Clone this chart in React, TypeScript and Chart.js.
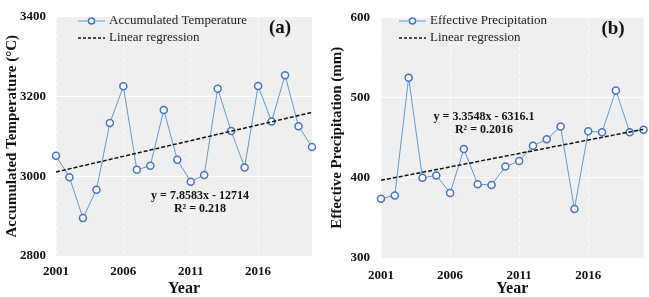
import { useEffect, useRef } from "react";
import { Chart, registerables } from "chart.js";

Chart.register(...registerables);

// Years of record and the two observed series
const YEARS = [
  2001, 2002, 2003, 2004, 2005, 2006, 2007, 2008, 2009, 2010,
  2011, 2012, 2013, 2014, 2015, 2016, 2017, 2018, 2019, 2020,
];
const ACCUM_TEMP = [
  3051, 2997, 2895, 2966, 3133, 3225, 3016, 3026, 3166, 3041,
  2986, 3003, 3219, 3113, 3022, 3226, 3137, 3253, 3125, 3073,
];
const EFFECTIVE_PRECIP = [
  374, 378, 525, 400, 403, 381, 436, 392, 391, 414,
  421, 440, 448, 464, 361, 458, 457, 509, 457, 460,
];

// Axis ticks
const YEAR_TICKS = [2001, 2006, 2011, 2016];
const TEMP_TICKS = [2800, 3000, 3200, 3400];
const PRECIP_TICKS = [300, 400, 500, 600];

// Fitted trends as printed on each panel
const TEMP_SLOPE = 7.8583;
const TEMP_INTERCEPT = -12714;
const TEMP_R2 = "0.218";
const PRECIP_SLOPE = 3.3548;
const PRECIP_INTERCEPT = -6316.1;
const PRECIP_R2 = "0.2016";

const SERIF = "'Liberation Serif', 'Times New Roman', serif";
const LINE_BLUE = "#5B9BD5";
const MARKER_BLUE = "#4472C4";
const PLOT_BG = "#EFEFEF";
const INK = "#111111";

type Panel = {
  width: number;
  tag: string;
  yTitle: string;
  seriesLabel: string;
  values: number[];
  yTicks: number[];
  slope: number;
  intercept: number;
  r2: string;
  padRight: number;
  xAxisHeight: number;
  tickPadX: number;
  tickPadY: number;
  legendX: number;
  legendY: number;
  tagX: number;
  tagY: number;
  eqX: number;
  eqY: number;
};

const PANELS: Panel[] = [
  {
    width: 325,
    tag: "(a)",
    yTitle: "Accumulated Temperature (\u00B0C)",
    seriesLabel: "Accumulated Temperature",
    values: ACCUM_TEMP,
    yTicks: TEMP_TICKS,
    slope: TEMP_SLOPE,
    intercept: TEMP_INTERCEPT,
    r2: TEMP_R2,
    padRight: 13,
    xAxisHeight: 41,
    tickPadX: 9,
    tickPadY: 10,
    legendX: 78,
    legendY: 21,
    tagX: 280,
    tagY: 28,
    eqX: 200,
    eqY: 196,
  },
  {
    width: 324,
    tag: "(b)",
    yTitle: "Effective Precipitation (mm)",
    seriesLabel: "Effective Precipitation",
    values: EFFECTIVE_PRECIP,
    yTicks: PRECIP_TICKS,
    slope: PRECIP_SLOPE,
    intercept: PRECIP_INTERCEPT,
    r2: PRECIP_R2,
    padRight: 5,
    xAxisHeight: 39,
    tickPadX: 11,
    tickPadY: 11,
    legendX: 74,
    legendY: 21,
    tagX: 288,
    tagY: 29,
    eqX: 159,
    eqY: 117,
  },
];

function equationText(slope: number, intercept: number) {
  const sign = intercept < 0 ? "-" : "+";
  return `y = ${slope}x ${sign} ${Math.abs(intercept)}`;
}

function makeDecor(p: Panel) {
  return {
    id: "panelDecor",
    beforeDraw(chart: Chart) {
      const { ctx, chartArea } = chart;
      ctx.save();
      ctx.fillStyle = PLOT_BG;
      ctx.fillRect(chartArea.left, chartArea.top, chartArea.width, chartArea.height);
      ctx.restore();
    },
    afterDraw(chart: Chart) {
      const { ctx } = chart;
      ctx.save();

      // legend: series row
      const x0 = p.legendX;
      const x1 = x0 + 27;
      const y1 = p.legendY;
      ctx.strokeStyle = LINE_BLUE;
      ctx.lineWidth = 1;
      ctx.beginPath();
      ctx.moveTo(x0, y1);
      ctx.lineTo(x1, y1);
      ctx.stroke();
      ctx.beginPath();
      ctx.arc((x0 + x1) / 2, y1, 3, 0, Math.PI * 2);
      ctx.fillStyle = "#ffffff";
      ctx.fill();
      ctx.strokeStyle = MARKER_BLUE;
      ctx.lineWidth = 1.5;
      ctx.stroke();

      // legend: regression row
      const y2 = p.legendY + 17;
      ctx.strokeStyle = INK;
      ctx.lineWidth = 1.5;
      ctx.setLineDash([3, 2]);
      ctx.beginPath();
      ctx.moveTo(x0, y2);
      ctx.lineTo(x1, y2);
      ctx.stroke();
      ctx.setLineDash([]);

      ctx.fillStyle = "#222222";
      ctx.font = `13px ${SERIF}`;
      ctx.textAlign = "left";
      ctx.textBaseline = "middle";
      ctx.fillText(p.seriesLabel, x1 + 4, y1);
      ctx.fillText("Linear regression", x1 + 4, y2);

      // panel tag
      ctx.fillStyle = INK;
      ctx.font = `bold 19px ${SERIF}`;
      ctx.textAlign = "center";
      ctx.fillText(p.tag, p.tagX, p.tagY);

      // trend equation
      ctx.font = `bold 12px ${SERIF}`;
      ctx.fillText(equationText(p.slope, p.intercept), p.eqX, p.eqY);
      ctx.fillText(`R\u00B2 = ${p.r2}`, p.eqX, p.eqY + 13);

      ctx.restore();
    },
  };
}

function PanelChart({ p }: { p: Panel }) {
  const ref = useRef<HTMLCanvasElement | null>(null);

  useEffect(() => {
    if (!ref.current) return;
    const first = YEARS[0];
    const last = YEARS[YEARS.length - 1];
    const chart = new Chart(ref.current, {
      type: "line",
      data: {
        datasets: [
          {
            label: "Linear regression",
            data: [
              { x: first, y: p.slope * first + p.intercept },
              { x: last, y: p.slope * last + p.intercept },
            ],
            borderColor: INK,
            borderWidth: 1.5,
            borderDash: [4, 2],
            pointRadius: 0,
            fill: false,
            order: 0,
          },
          {
            label: p.seriesLabel,
            data: YEARS.map((yr, i) => ({ x: yr, y: p.values[i] })),
            borderColor: LINE_BLUE,
            borderWidth: 1,
            pointRadius: 3.5,
            pointBorderWidth: 1.5,
            pointBorderColor: MARKER_BLUE,
            pointBackgroundColor: "#ffffff",
            tension: 0,
            fill: false,
            clip: false as any,
            order: 1,
          },
        ],
      },
      options: {
        animation: false,
        responsive: true,
        maintainAspectRatio: false,
        layout: { padding: { top: 7, right: p.padRight, left: 0, bottom: 0 } },
        plugins: {
          legend: { display: false },
          tooltip: { enabled: false },
        },
        scales: {
          x: {
            type: "linear",
            min: first,
            max: last,
            afterBuildTicks: (s: any) => {
              s.ticks = YEAR_TICKS.map((v) => ({ value: v }));
            },
            afterFit: (s: any) => {
              s.height = p.xAxisHeight;
            },
            grid: { color: "#ffffff", lineWidth: 1, drawTicks: false },
            border: { display: false, dash: [3, 3] },
            ticks: {
              padding: p.tickPadX,
              maxRotation: 0,
              autoSkip: false,
              color: INK,
              font: { family: SERIF, size: 13, weight: "bold", lineHeight: 1 },
              callback: (v: any) => String(v),
            },
            title: {
              display: true,
              text: "Year",
              color: INK,
              font: { family: SERIF, size: 16, weight: "bold", lineHeight: 1 },
              padding: { top: 0, bottom: 0 },
            },
          },
          y: {
            type: "linear",
            min: p.yTicks[0],
            max: p.yTicks[p.yTicks.length - 1],
            afterBuildTicks: (s: any) => {
              s.ticks = p.yTicks.map((v) => ({ value: v }));
            },
            afterFit: (s: any) => {
              s.width = 56;
            },
            grid: { color: "#ffffff", lineWidth: 1, drawTicks: false },
            border: { display: false },
            ticks: {
              padding: p.tickPadY,
              color: INK,
              font: { family: SERIF, size: 13, weight: "bold", lineHeight: 1 },
              callback: (v: any) => String(v),
            },
            title: {
              display: true,
              text: p.yTitle,
              color: INK,
              font: { family: SERIF, size: 15, weight: "bold", lineHeight: 1.2 },
              padding: { top: 3, bottom: 0 },
            },
          },
        },
      },
      plugins: [makeDecor(p)],
    });
    return () => chart.destroy();
  }, [p]);

  return (
    <div style={{ position: "relative", width: p.width, height: 297 }}>
      <canvas ref={ref} />
    </div>
  );
}

export default function App() {
  return (
    <div
      style={{
        position: "fixed",
        left: 0,
        top: 0,
        width: 649,
        height: 297,
        display: "flex",
        background: "#ffffff",
      }}
    >
      {PANELS.map((p) => (
        <PanelChart key={p.tag} p={p} />
      ))}
    </div>
  );
}
